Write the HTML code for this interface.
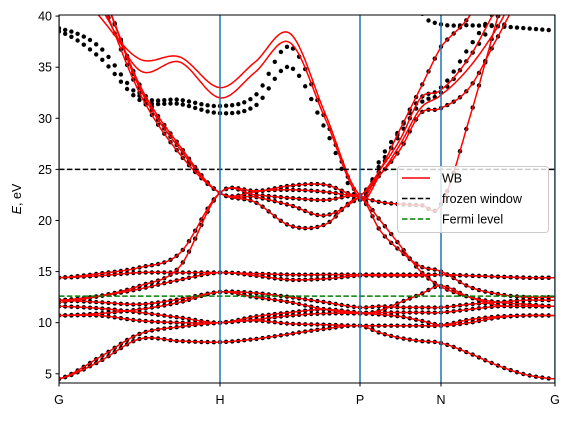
<!DOCTYPE html>
<html><head><meta charset="utf-8"><style>
body{margin:0;background:#fff;}
svg{font-family:"Liberation Sans","DejaVu Sans",sans-serif;}
</style></head><body>
<svg id="chart" width="570" height="418" viewBox="0 0 570 418">
<defs><clipPath id="pc"><rect x="59" y="15" width="496" height="368"/></clipPath></defs>
<g id="plot" clip-path="url(#pc)"></g>
<g id="axes"></g>
</svg>
<script>
const kLabels = ["G","H","P","N","G"];
const kPix = [59,220,360,441,555];
const yTicks = [5,10,15,20,25,30,35,40];
const frozenWindow = 25;
const fermiLevel = 12.6;
// band energies sampled at t = 0,0.25,...,4 along the path
const bandRed1 = [4.5,6.2,8.4,8.2,8.1, 8.4,8.9,9.4,9.7, 9.0,8.5,8.2,8.0, 7.0,5.8,4.9,4.5];
const bandRed2 = [4.5,6.6,8.9,9.6,10.0, 10.2,9.9,9.8,9.7, 9.7,9.7,9.7,9.7, 10.0,10.5,10.7,10.7];
const bandRed3 = [10.7,10.7,10.2,10.0,10.0, 10.3,10.7,10.9,10.9, 10.8,10.6,10.2,9.8, 10.3,10.6,10.7,10.7];
const bandRed4 = [10.7,10.9,11.3,12.0,13.0, 12.5,12.0,11.3,10.9, 11.2,12.0,12.8,13.6, 12.5,11.7,11.6,11.6];
const bandRed5 = [11.6,11.4,11.0,10.5,10.0, 10.6,11.0,11.3,11.0, 11.0,11.0,11.0,11.0, 11.3,11.6,11.6,11.6];
const bandRed6 = [12.2,12.0,11.8,12.3,13.0, 12.9,12.5,12.0,11.5, 11.6,11.5,11.5,11.5, 11.8,12.0,12.2,12.2];
const bandRed7 = [12.2,12.6,13.3,14.2,14.9, 14.6,14.2,14.3,14.6, 14.6,14.6,14.6,14.7, 14.6,14.5,14.4,14.4];
const bandRed8 = [14.4,14.6,14.9,14.9,14.9, 14.8,14.7,14.7,14.7, 14.7,14.7,14.7,14.7, 14.6,14.5,14.4,14.4];
const bandUp1 = [45,40,35.8,36.0,33.0, 35.5,38.3,30.5,22.5, 25,28,32,32.8, 36,41,45,45];
const bandUp2 = [45,41,34.7,35.5,32.0, 34.5,37.4,30,22.2, 24.5,27.5,31,32.3, 35,39,44,45];
const bandUp3 = [50,43,33,27,22.7, 22.3,21.5,20.5,22.3, 25,29,33,37.0, 40,45,50,50];
const bandUp4 = [50,42,32.5,26.5,22.7, 21.8,19.5,19.6,22.2, 19,17,15.5,15.0, 13.5,12.8,12.5,12.5];
const bandUp5 = [14.4,14.8,15.4,16.8,22.7, 22.9,23.0,22.8,22.3, 21.8,21.6,21.5,21.6, 30,40,50,50];
const bandUp6 = [12.0,12.6,13.6,15.5,22.7, 22.5,22.2,22.0,22.3, 20.0,17.5,15.0,13.5, 12.5,12.0,11.8,11.6];
const bandUp7 = [50,43,33.3,27.3,22.7, 22.8,23.4,23.5,22.5, 24.5,27,30.5,31.0, 33,38,43,45];
// DFT-only dot bands
const dotBand1 = [38.5,36,31.8,31.4,30.5, 31.2,35,29,22.0, 26,29,32,33.0, 37,41,45,45];
const dotBand2 = [38.8,37,32.2,31.8,31.2, 32.2,37,30,22.4, 25.5,28.5,31.5,32.5, 36,40,44,45];
const dotBand3 = [50,50,50,50,50, 50,50,50,50, 50,47,40.5,39.2, 39.1,39.0,38.8,38.6];
const redBands = [bandRed1,bandRed2,bandRed3,bandRed4,bandRed5,bandRed6,bandRed7,bandRed8,bandUp1,bandUp2,bandUp3,bandUp4,bandUp5,bandUp6,bandUp7];
const dotBands = [bandRed1,bandRed2,bandRed3,bandRed4,bandRed5,bandRed6,bandRed7,bandRed8,bandUp3,bandUp4,bandUp5,bandUp6,bandUp7,dotBand1,dotBand2,dotBand3];

const NS="http://www.w3.org/2000/svg";
const yPix = e => 384 - (e-4)*10.22;
const xPix = t => { const s=Math.min(3,Math.floor(t)); return kPix[s]+(t-s)*(kPix[s+1]-kPix[s]); };
function val(arr,t){
  const u=t*4, i=Math.min(arr.length-2,Math.floor(u)), f=u-i;
  const p0=arr[Math.max(0,i-1)],p1=arr[i],p2=arr[i+1],p3=arr[Math.min(arr.length-1,i+2)];
  return 0.5*((2*p1)+(-p0+p2)*f+(2*p0-5*p1+4*p2-p3)*f*f+(-p0+3*p1-3*p2+p3)*f*f*f);
}
function mk(tag,attrs,parent){const el=document.createElementNS(NS,tag);for(const k in attrs)el.setAttribute(k,attrs[k]);parent.appendChild(el);return el;}
const plot=document.getElementById('plot'), axes=document.getElementById('axes');

dotBands.forEach((b,bi)=>{
  const g=mk('g',{},plot);
  
  
  for(let s=0;s<4;s++){
    const n=Math.round((kPix[s+1]-kPix[s])/6.2);
    for(let j=0;j<n;j++){
      const t=s+j/n, e=val(b,t);
      const c=mk('circle',{cx:xPix(t).toFixed(1),cy:yPix(e).toFixed(1),r:2.2,fill:'#000'},g);
      
      
    }
  }
});
redBands.forEach(b=>{
  let d='';
  for(let i=0;i<=400;i++){const t=i/100;d+=(i?'L':'M')+xPix(t).toFixed(1)+','+yPix(val(b,t)).toFixed(1);}
  const p=mk('path',{d:d,fill:'none',stroke:'#ff0000','stroke-width':1.5},plot);
  
  
});
const fw=mk('line',{x1:59,x2:555,y1:yPix(frozenWindow),y2:yPix(frozenWindow),stroke:'#000','stroke-width':1.5,'stroke-dasharray':'5.5,2.4'},plot);


const fl=mk('line',{x1:59,x2:555,y1:yPix(fermiLevel),y2:yPix(fermiLevel),stroke:'#008000','stroke-width':1.5,'stroke-dasharray':'5.5,2.4'},plot);


kPix.forEach((x,i)=>{
  const l=mk('line',{x1:x,x2:x,y1:15,y2:383,stroke:'#1f77b4','stroke-width':1.5},plot);
  
  
});
const fr=mk('rect',{x:59,y:15,width:496,height:368,fill:'none',stroke:'#000','stroke-width':1},axes);


yTicks.forEach(v=>{
  const y=yPix(v);
  const tk=mk('line',{x1:55.5,x2:59,y1:y,y2:y,stroke:'#000'},axes);
  
  
  const tx=mk('text',{x:52,y:y+4.5,'text-anchor':'end','font-size':12.5},axes);
  tx.textContent=v;
  
  
});
kLabels.forEach((lab,i)=>{
  const x=kPix[i];
  const tk=mk('line',{x1:x,x2:x,y1:383,y2:386.5,stroke:'#000'},axes);
  
  
  const tx=mk('text',{x:x,y:404,'text-anchor':'middle','font-size':12.5},axes);
  tx.textContent=lab;
  
  
});
const yl=mk('text',{x:0,y:0,'text-anchor':'middle','font-size':12.5,transform:'translate(21,199) rotate(-90)'},axes);
yl.innerHTML='<tspan font-style="italic">E</tspan>, eV';


const lg=mk('g',{},axes);


mk('rect',{x:397.5,y:166.5,width:151,height:66,rx:3,fill:'rgba(255,255,255,0.8)',stroke:'#ccc'},lg);
const entries=[['WB','#ff0000',''],['frozen window','#000','5.5,2.4'],['Fermi level','#008000','5.5,2.4']];
entries.forEach((en,i)=>{
  const y=178+i*20.5;
  const ln=mk('line',{x1:402,x2:430,y1:y,y2:y,stroke:en[1],'stroke-width':1.5,'stroke-dasharray':en[2]||'none'},lg);
  
  
  const tx=mk('text',{x:442,y:y+4.5,'font-size':12.5},lg);
  tx.textContent=en[0];
  
  
});
</script>
</body></html>
